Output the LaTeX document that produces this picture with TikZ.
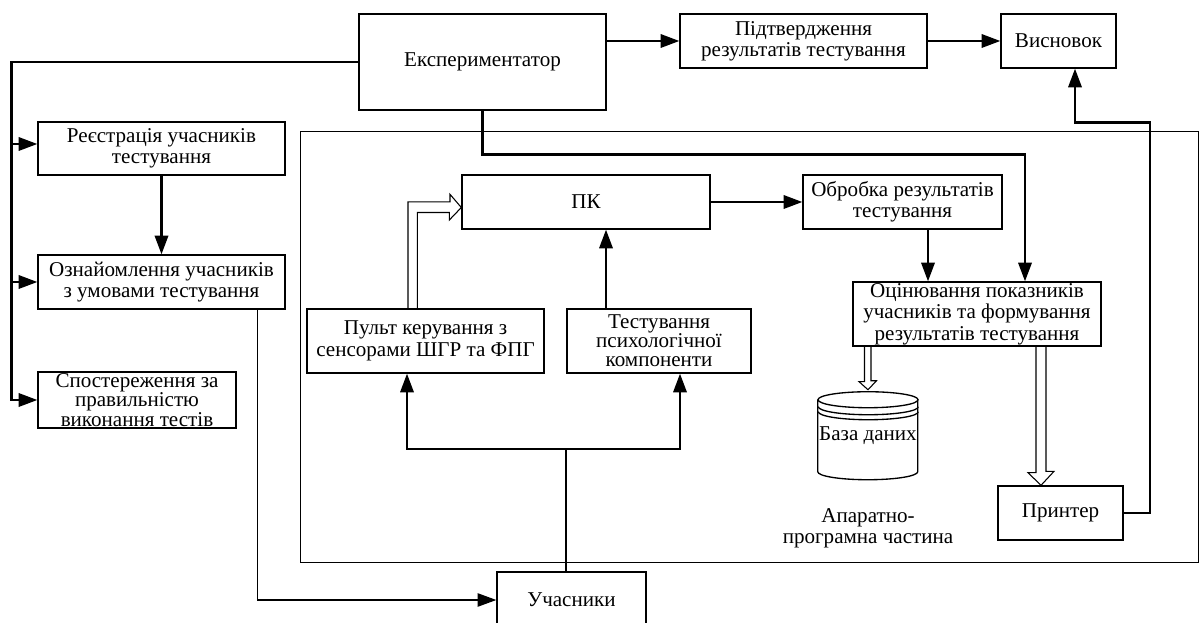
\documentclass[tikz,border=0pt]{standalone}
\usepackage{fontspec}
\setmainfont{Liberation Serif}
\usetikzlibrary{arrows.meta,calc}
\begin{document}
\begin{tikzpicture}[x=0.75pt,y=-0.75pt,
  txt/.style={font=\fontsize{15.8}{16}\selectfont},
  box/.style={draw, line width=1pt, align=center, inner sep=0pt, txt},
  sz/.style 2 args={minimum width=#1*0.75pt, minimum height=#2*0.75pt},
  conn/.style={line width=1.75pt},
  thin/.style={line width=1pt},
  arr/.style={conn, -{Triangle[length=14pt,width=10pt]}},
  tarr/.style={thin, -{Triangle[length=14pt,width=10pt]}},
  hollow/.style={line width=0.8pt, line join=miter},
  cyl/.style={line width=1pt}
]
\clip (0,0) rectangle (1200,623);
% nodes
\node[box, sz={247}{96}] (exp) at (482.5,62) {Експериментатор};
\node[box, sz={247}{54}] (conf) at (803.5,41) {Підтвердження\\результатів тестування};
\node[box, sz={115}{54}] (visn) at (1058.5,41) {Висновок};
\node[box, sz={247}{53}] (reg) at (161.5,148.5) {Реєстрація учасників\\тестування};
\node[box, sz={247}{54}] (ozn) at (161.5,282) {Ознайомлення учасників\\з умовами тестування};
\node[box, sz={198}{56}, font=\fontsize{15.8}{12.6}\selectfont] (spos) at (137,400) {Спостереження за\\правильністю\\виконання тестів};
\node[draw, line width=0.75pt, inner sep=0pt, sz={898}{430}] (frame) at (749,347) {};
\node[box, sz={248}{54}] (pk) at (586,202) {ПК};
\node[box, sz={199}{54}] (obr) at (902.5,202) {Обробка результатів\\тестування};
\node[box, sz={248}{64}] (ots) at (977,314) {Оцінювання показників\\учасників та формування\\результатів тестування};
\node[box, sz={237}{64}] (pult) at (425.5,341) {Пульт керування з\\сенсорами ШГР та ФПГ};
\node[box, sz={184}{64}, font=\fontsize{15.8}{14.2}\selectfont] (test) at (659,341) {Тестування\\психологічної\\компоненти};
\node[inner sep=0pt, txt, sz={100}{91}] (db) at (868,435.5) {\raisebox{-5.5pt}{База даних}};
\node[box, sz={125}{54}] (prn) at (1060.5,513) {Принтер};
\node[box, sz={149}{56}] (uch) at (571.5,600) {Учасники};
\node[txt, align=center, inner sep=0pt] (hw) at (868,528) {Апаратно-\\програмна частина};
% database cylinder
\draw[cyl] (db.north west) ++(0,10) -- ++(0,72) arc[start angle=180, end angle=360, x radius=37.5pt, y radius=6pt] -- ++(0,-72);
\draw[cyl] ($(db.north)+(0,10)$) ellipse [x radius=37.5pt, y radius=6pt];
\draw[cyl] ($(db.north east)+(0,17)$) arc[start angle=0, end angle=-180, x radius=37.5pt, y radius=6pt];
\draw[cyl] ($(db.north east)+(0,22)$) arc[start angle=0, end angle=-180, x radius=37.5pt, y radius=6pt];
% connectors
\draw[arr] (exp.east |- conf.west) -- (conf.west);
\draw[arr] (conf) -- (visn);
\coordinate (L) at ($(spos.west)+(-26,0)$);
\draw[arr] (exp.west) -| (L) -- (spos.west);
\coordinate (rw) at ($(reg.west)+(0,-4.5)$);
\draw[arr] (L |- rw) -- (rw);
\draw[arr] (L |- ozn.west) -- (ozn.west);
\draw[arr] (reg) -- (ozn);
\draw[tarr] ($(ozn.south east)+(-28,0)$) |- (uch.west);
\draw[arr] (exp.south) -- ++(0,44) -| ($(ots.north)+(48,0)$);
\draw[arr] (pk) -- (obr);
\coordinate (a) at ($(obr.south)+(25.5,0)$);
\draw[arr] (a) -- (a |- ots.north);
\coordinate (b) at ($(test.north)+(-53,0)$);
\draw[arr] (b) -- (b |- pk.south);
\coordinate (u) at ($(uch.north)+(-5.5,0)$);
\coordinate (j) at ($(u)+(0,-122)$);
\coordinate (p) at ($(pult.south)+(-18.5,0)$);
\coordinate (t) at ($(test.south)+(21,0)$);
\draw[thin] (u) -- (j);
\draw[arr] (j) -| (p);
\draw[arr] (j) -| (t);
\coordinate (v) at ($(visn.south)+(16.5,0)$);
\draw[arr] (prn.east) -- ++(26,0) |- ($(v)+(0,54)$) -- (v);
% hollow block arrows
\coordinate (S) at ($(pult.north)+(-17.5,0)$);
\coordinate (T) at ($(pk.west)+(0,5.5)$);
\draw[hollow] (S) -- ++(0,-106.5) -- ++(42,0) -- ++(0,-7.5) -- (T) -- ++(-12,12.5) -- ++(0,-7.5) -- ++(-32,0) -- ++(0,96.5);
\coordinate (D) at (db.north);
\draw[hollow] ($(ots.south)+(-112.5,0)$) -- ++(0,35) -- ++(-5.5,0) -- (D) -- ++(8.5,-9) -- ++(-5.5,0) -- ++(0,-35);
\coordinate (P) at ($(prn.north)+(-19.5,0)$);
\draw[hollow] ($(ots.south)+(59,0)$) -- ++(0,126) -- ++(-8,0) -- (P) -- ++(13,-14) -- ++(-8,0) -- ++(0,-126);
\end{tikzpicture}
\end{document}
